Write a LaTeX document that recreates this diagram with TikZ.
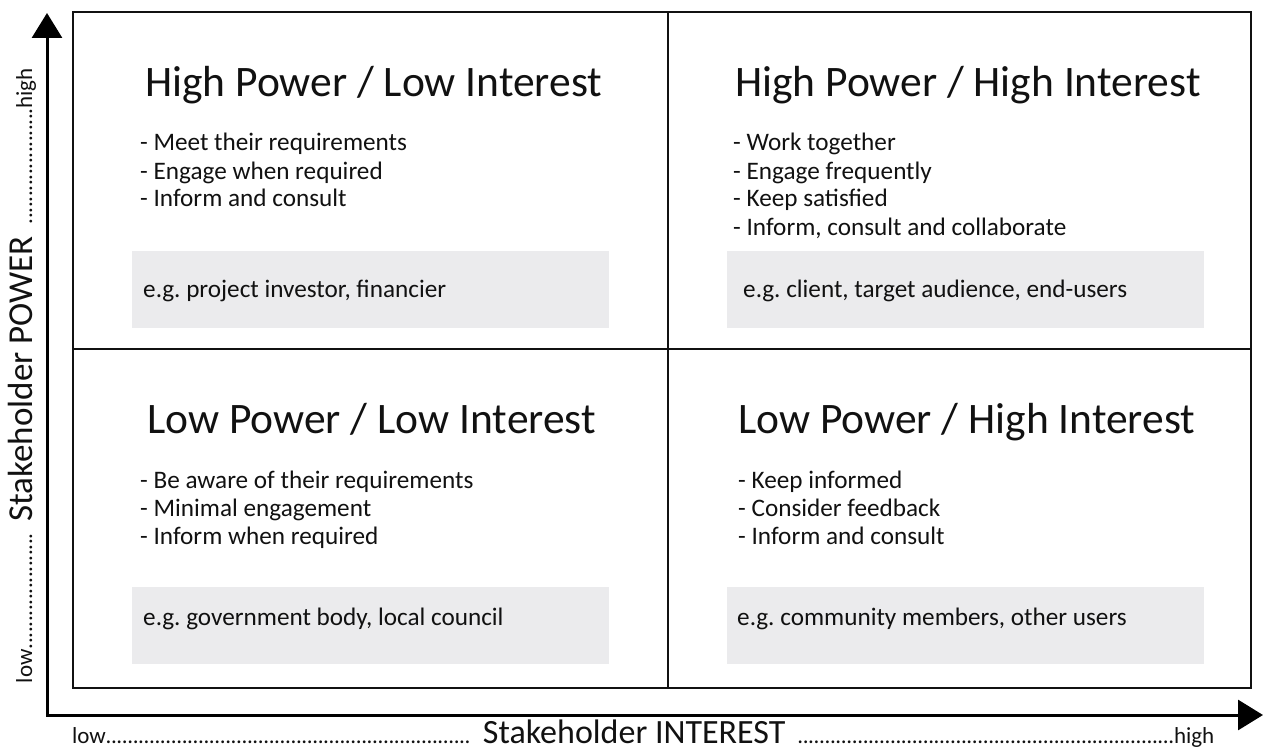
\documentclass[tikz,border=0pt]{standalone}
\usepackage{fontspec}
\setmainfont{Carlito}
\usetikzlibrary{arrows.meta}
\definecolor{exfill}{HTML}{EBEBED}
\definecolor{ink}{HTML}{111111}
\frenchspacing
% leader of full stops used along the axis captions (#1 = stretch weight)
\newcommand\axisdots[1][1]{\xleaders\hbox to 5.4pt{\hss.\hss}\hskip 0pt plus #1fil\relax}
% gap between the leaders and the axis name
\newcommand\namegap{\hspace{12pt}}

\begin{document}
\begin{tikzpicture}[x=1pt,y=-1pt,
  quadtitle/.style={anchor=base west,inner sep=0pt,text=ink,font=\fontsize{43.5}{50}\selectfont},
  point/.style={anchor=base west,inner sep=0pt,text=ink,font=\fontsize{25.2}{28}\selectfont},
  examplebox/.style={anchor=north west,fill=exfill,draw=none,inner sep=0pt,
    minimum width=477pt,minimum height=77pt},
  grid/.style={draw=ink,line width=1.8pt},
  axis/.style={draw=black,line width=3pt,
    {Triangle[length=25pt,width=30pt]}-{Triangle[length=25pt,width=30pt]}},
  axiscaption/.style={inner sep=0pt,anchor=base,text=ink,font=\fontsize{23}{26}\selectfont}
]
\useasboundingbox (0,0) rectangle (1264,749);

% matrix frame
\coordinate (nw) at (73,12);
\coordinate (se) at (1251,688);
\coordinate (ntop) at (668,12);
\coordinate (nbot) at (668,688);
\coordinate (wmid) at (73,349);
\coordinate (emid) at (1251,349);
\draw[grid] (nw) rectangle (se);
\draw[grid] (ntop) -- (nbot);
\draw[grid] (wmid) -- (emid);

% axes
\coordinate (origin) at (47,715);
\coordinate (ytip) at (47,13);
\coordinate (xtip) at (1263,715);
\draw[axis] (ytip) -- (origin) -- (xtip);

% example boxes
\node[examplebox] (tlbox) at (132,251) {};
\node[examplebox] (trbox) at (727,251) {};
\node[examplebox] (blbox) at (132,587) {};
\node[examplebox] (brbox) at (727,587) {};

% top left
\node[quadtitle] (tltitle) at (145,97) {High Power / Low Interest};
\node[point] (tl1) at (140,151) {- Meet their requirements};
\node[point] (tl2) at (140,179) {- Engage when required};
\node[point] (tl3) at (140,207) {- Inform and consult};
\node[point] (tlex) at (143,297) {e.g. project investor, financier};

% top right
\node[quadtitle] (trtitle) at (735,97) {High Power / High Interest};
\node[point] (tr1) at (733,151) {- Work together};
\node[point] (tr2) at (733,179) {- Engage frequently};
\node[point] (tr3) at (733,207) {- Keep satisfied};
\node[point] (tr4) at (733,235) {- Inform, consult and collaborate};
\node[point] (trex) at (743,297) {e.g. client, target audience, end-users};

% bottom left
\node[quadtitle] (bltitle) at (147,433) {Low Power / Low Interest};
\node[point] (bl1) at (140,488) {- Be aware of their requirements};
\node[point] (bl2) at (140,516) {- Minimal engagement};
\node[point] (bl3) at (140,544) {- Inform when required};
\node[point] (blex) at (143,625) {e.g. government body, local council};

% bottom right
\node[quadtitle] (brtitle) at (738,433) {Low Power / High Interest};
\node[point] (br1) at (738,488) {- Keep informed};
\node[point] (br2) at (738,516) {- Consider feedback};
\node[point] (br3) at (738,544) {- Inform and consult};
\node[point] (brex) at (737,625) {e.g. community members, other users};

% axis captions
\node[axiscaption] (xcap) at (643.5,743)
  {\makebox[1143pt][s]{low\axisdots[0.968]\namegap{\fontsize{34}{40}\selectfont Stakeholder INTEREST}\namegap\axisdots high}};
\node[axiscaption,rotate=90] (ycap) at (32,375.5)
  {\makebox[615pt][s]{low\axisdots\namegap{\fontsize{35}{40}\selectfont Stakeholder POWER}\namegap\axisdots high}};
\end{tikzpicture}
\end{document}
